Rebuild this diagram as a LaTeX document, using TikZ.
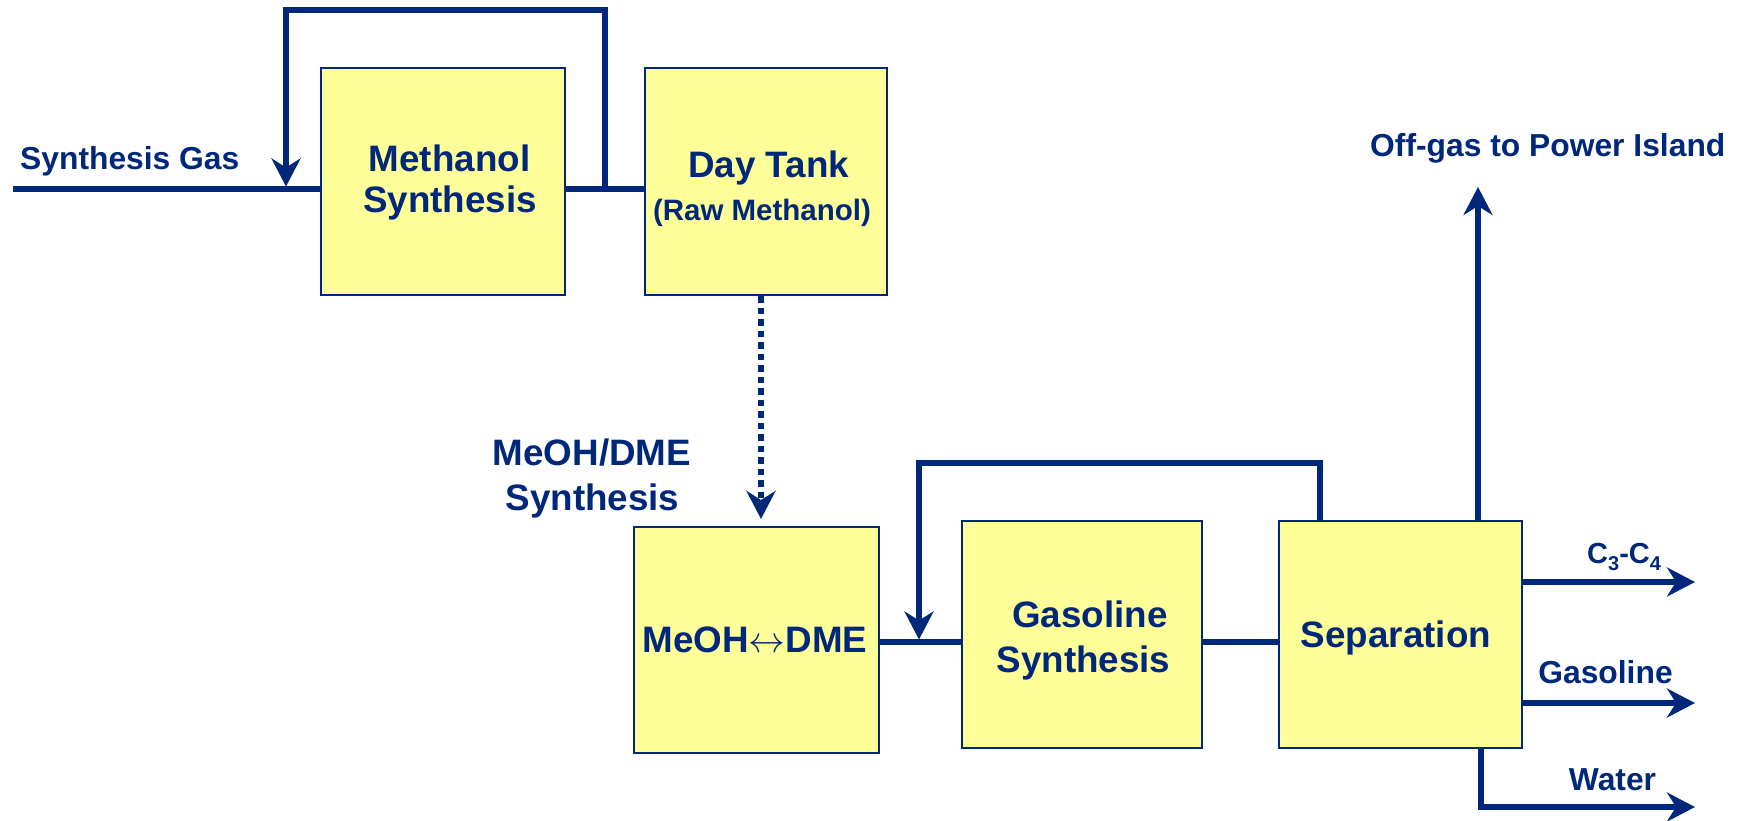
\RequirePackage{fix-cm}
\documentclass[tikz,border=0pt]{standalone}
\usepackage{fontspec}
\setmainfont{Liberation Sans}
\usetikzlibrary{arrows.meta,calc}

\definecolor{flownavy}{RGB}{0,40,122}
\definecolor{unityellow}{RGB}{255,255,153}

% font sizes used on the flow sheet
\newcommand\unitfont{\fontsize{36.8}{44}\selectfont}
\newcommand\streamfont{\fontsize{31.8}{38}\selectfont}
\newcommand\notefont{\fontsize{29.5}{35}\selectfont}
\newcommand\subsfont{\fontsize{29}{34}\selectfont}
\newcommand\subidx[1]{\raisebox{-7pt}{\fontsize{20}{24}\selectfont #1}}

\begin{document}
\begin{tikzpicture}[x=1pt,y=-1pt,
  unit/.style={rectangle,draw=flownavy,line width=2pt,fill=unityellow,inner sep=0pt},
  flow/.style={draw=flownavy,line width=5.8pt},
  flowarrow/.style={flow,-{Stealth[length=28pt,width=29pt,inset=9pt]}},
  transfer/.style={flowarrow,dash pattern=on 6.5pt off 5pt},
  lbl/.style={text=flownavy,font=\bfseries,anchor=base,inner sep=0pt},
]
\useasboundingbox (0,0) rectangle (1742,821);

% process units
\node[unit,minimum width=244pt,minimum height=227pt] (ms) at (443,181.5) {};
\node[unit,minimum width=242pt,minimum height=227pt] (dt) at (766,181.5) {};
\node[unit,minimum width=245pt,minimum height=226pt] (md) at (756.5,640) {};
\node[unit,minimum width=240pt,minimum height=227pt] (gs) at (1082,634.5) {};
\node[unit,minimum width=243pt,minimum height=227pt] (sp) at (1400.5,634.5) {};

% unit captions
\node[lbl,font=\bfseries\unitfont] (ms-t1) at (449.5,172) {Methanol};
\node[lbl,font=\bfseries\unitfont] (ms-t2) at (450,213) {Synthesis};
\node[lbl,font=\bfseries\unitfont] (dt-t1) at (768.5,178) {Day Tank};
\node[lbl,font=\bfseries\notefont] (dt-t2) at (762,220) {(Raw Methanol)};
\node[lbl,font=\bfseries\unitfont] (md-t) at (755,652) {MeOH$\leftrightarrow$DME};
\node[lbl,font=\bfseries\unitfont] (gs-t1) at (1090,627) {Gasoline};
\node[lbl,font=\bfseries\unitfont] (gs-t2) at (1083.5,672) {Synthesis};
\node[lbl,font=\bfseries\unitfont] (sp-t) at (1396,647) {Separation};

% section heading
\node[lbl,font=\bfseries\unitfont] (sec-t1) at (592,465) {MeOH/DME};
\node[lbl,font=\bfseries\unitfont] (sec-t2) at (592.5,510) {Synthesis};

% stream labels
\node[lbl,anchor=base west,font=\bfseries\streamfont] (feed-t) at (20,170) {Synthesis Gas};
\node[lbl,anchor=base west,font=\bfseries\streamfont] (off-t) at (1370,157) {Off-gas to Power Island};
\node[lbl,anchor=base west,font=\bfseries\subsfont] (lpg-t) at (1587,563) {C\subidx{3}-C\subidx{4}};
\node[lbl,font=\bfseries\streamfont] (gas-t) at (1605.5,683) {Gasoline};
\node[lbl,font=\bfseries\streamfont] (wat-t) at (1612.5,790) {Water};

% stream end points
\coordinate (feed) at (13,189);
\coordinate (msout) at (605,189);
\coordinate (msin) at (286,189);
\coordinate (mdline) at (0,642);
\coordinate (recyc2) at (1320,0);
\coordinate (gsin) at (919,642);
\coordinate (offx) at (1478,0);
\coordinate (watx) at (1481,0);
\coordinate (outx) at (1695,0);

% methanol loop
\draw[flow] (feed) -- (feed -| ms.west);
\draw[flow] (ms.east |- feed) -- (dt.west |- feed);
\draw[flowarrow] (msout) -- ++(0,-179) -| ($(msin)+(0,-2.5)$);

% raw methanol transfer
\draw[transfer] ($(dt.south)+(-5,0)$) -- ($(md.north)+(4.5,-7)$);

% gasoline loop
\draw[flow] (md.east |- mdline) -- (gs.west |- mdline);
\draw[flow] (gs.east |- mdline) -- (sp.west |- mdline);
\draw[flowarrow] (recyc2 |- sp.north) -- ++(0,-57) -| ($(gsin)+(0,-2.5)$);

% products
\draw[flowarrow] (offx |- sp.north) -- (1478,187);
\draw[flowarrow] (sp.east |- 0,582) -- (outx |- 0,582);
\draw[flowarrow] (sp.east |- 0,703) -- (outx |- 0,703);
\draw[flowarrow] (watx |- sp.south) -- (1481,807) -- (outx |- 0,807);
\end{tikzpicture}
\end{document}
